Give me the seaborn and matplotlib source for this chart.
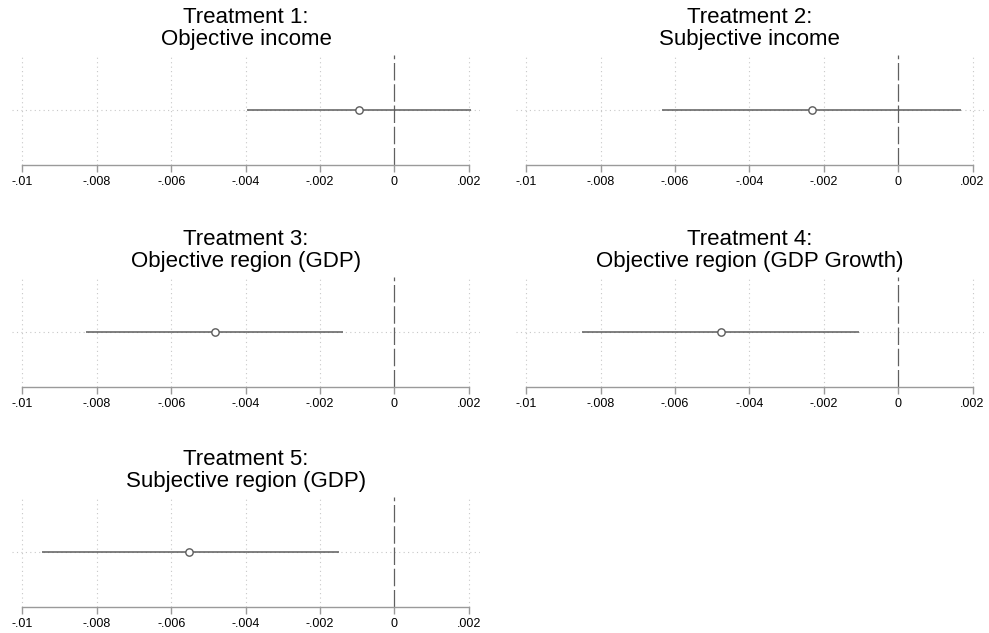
import matplotlib
matplotlib.use("Agg")
import matplotlib.pyplot as plt
import seaborn as sns
import pandas as pd

sns.set_theme(style="white")
plt.rcParams["font.family"] = ["Liberation Sans", "DejaVu Sans"]

# Treatment effects: point estimate and confidence interval bounds
titles = [
    "Treatment 1:\nObjective income",
    "Treatment 2:\nSubjective income",
    "Treatment 3:\nObjective region (GDP)",
    "Treatment 4:\nObjective region (GDP Growth)",
    "Treatment 5:\nSubjective region (GDP)",
]
estimates = [-0.00095, -0.00232, -0.00483, -0.00477, -0.00551]
ci_low = [-0.00397, -0.00635, -0.00829, -0.00849, -0.00948]
ci_high = [0.00206, 0.00170, -0.00139, -0.00104, -0.00150]

tick_values = [-0.01, -0.008, -0.006, -0.004, -0.002, 0, 0.002]
tick_labels = ["-.01", "-.008", "-.006", "-.004", "-.002", "0", ".002"]

df = pd.DataFrame({"title": titles, "est": estimates, "lo": ci_low, "hi": ci_high, "row": 0})

W, H = 989, 633
fig = plt.figure(figsize=(W / 100, H / 100), dpi=100)

col_left = [12, 515.7]
axes_width = 468
row_bottom = [165, 387, 607]
axes_height = 110

line_col = "#5c5c5c"
grid_col = "#c8c8c8"
spine_col = "#9a9a9a"

for i, rec in df.iterrows():
    r, c = divmod(i, 2)
    x0 = col_left[c]
    yb = row_bottom[r]
    ax = fig.add_axes([x0 / W, 1 - yb / H, axes_width / W, axes_height / H])

    # reference grid
    for t in tick_values:
        if t == 0:
            continue
        ax.axvline(t, color=grid_col, lw=0.8, ls=(0, (1, 3)), zorder=0)
    ax.axhline(0, color=grid_col, lw=0.8, ls=(0, (1, 3)), zorder=0)
    ax.axvline(0, color="#606060", lw=0.9, ls=(0, (14, 3)), zorder=1)

    # confidence interval and point estimate
    sub = df.iloc[[i]]
    ax.hlines(sub["row"], sub["lo"], sub["hi"], color=line_col, lw=1.1, zorder=2)
    sns.scatterplot(data=sub, x="est", y="row", ax=ax, s=28, marker="o",
                    facecolor="white", edgecolor=line_col, linewidth=1.0, zorder=3)

    ax.set_xlim(-0.01028, 0.0023)
    ax.set_ylim(-1, 1)
    ax.set_xticks(tick_values)
    ax.set_xticklabels(tick_labels)
    ax.set_yticks([])
    ax.set_xlabel("")
    ax.set_ylabel("")
    for s in ["top", "right", "left"]:
        ax.spines[s].set_visible(False)
    ax.spines["bottom"].set_bounds(-0.01, 0.002)
    ax.spines["bottom"].set_color(spine_col)
    ax.spines["bottom"].set_linewidth(1.0)
    ax.tick_params(axis="x", direction="out", length=5, width=1.0, color=spine_col,
                   labelsize=9, labelcolor="black", pad=3, bottom=True)
    ax.set_title(rec["title"], fontsize=16, pad=7, linespacing=1.05, color="black")

fig.savefig("out.png", dpi=100)
